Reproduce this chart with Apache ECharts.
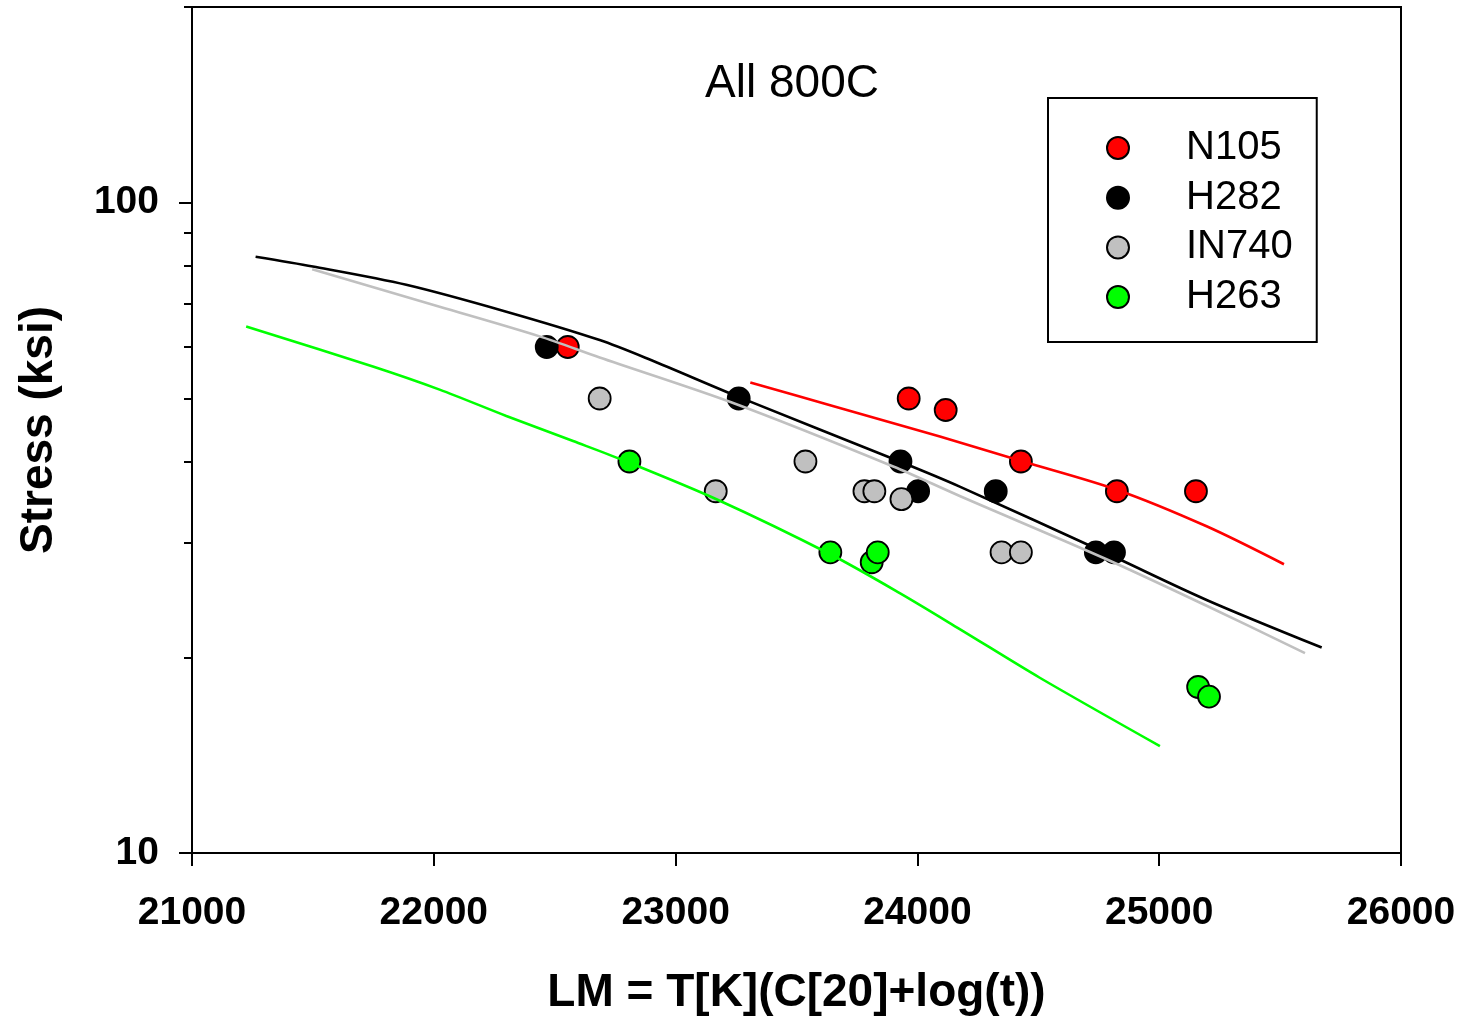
<!DOCTYPE html>
<html><head><meta charset="utf-8">
<script src="https://cdn.jsdelivr.net/npm/echarts@6/dist/echarts.min.js"></script>
<style>html,body{margin:0;padding:0;background:#fff}#c{width:1465px;height:1017px}</style>
</head><body><div id="c"></div>
<script>
const FONT = '"Liberation Sans", Arial, Helvetica, sans-serif';

// axes
const xTicks = [21000, 22000, 23000, 24000, 25000, 26000];
const yMajorTicks = [10, 100];
const yMinorTicks = [20, 30, 40, 50, 60, 70, 80, 90, 200];

// measured points
const n105X = [22554, 23964, 24117, 24428, 24825, 25152];
const n105Y = [60, 50, 48, 40, 36, 36];
const h282X = [22467, 23261, 23930, 24003, 24324, 24738, 24813];
const h282Y = [60, 50, 40, 36, 36, 29, 29];
const in740X = [22686, 23166, 23537, 23781, 23822, 23934, 24348, 24428];
const in740Y = [50, 36, 40, 36, 36, 35, 29, 29];
const h263X = [22809, 23640, 23811, 23836, 25161, 25206];
const h263Y = [40, 29, 28, 29, 18, 17.4];

// fitted curves
const fitN105X = [23309, 23650, 24093, 24437, 24824, 25196, 25516];
const fitN105Y = [52.9, 48.7, 43.7, 40.0, 36.2, 31.8, 27.8];
const fitH282X = [21263, 21500, 21886, 22300, 22686, 22893, 23265, 23927, 24175, 24782, 25196, 25672];
const fitH282Y = [82.6, 79.8, 74.8, 68.0, 61.5, 57.4, 50.2, 40.0, 36.6, 28.9, 24.5, 20.7];
const fitIN740X = [21497, 22024, 22438, 22686, 23238, 23900, 24175, 24782, 25196, 25603];
const fitIN740Y = [79.0, 69.2, 62.3, 57.8, 49.2, 39.3, 35.4, 28.3, 24.0, 20.3];
const fitH263X = [21224, 21748, 22024, 22300, 22576, 22782, 23169, 23640, 23927, 24175, 24506, 25003];
const fitH263Y = [64.5, 56.0, 51.6, 47.0, 43.0, 40.2, 35.0, 28.8, 25.1, 22.1, 18.6, 14.6];

const names = ['N105', 'H282', 'IN740', 'H263'];
const colors = ['#ff0000', '#000000', '#c0c0c0', '#00ff00'];
const ptsX = [n105X, h282X, in740X, h263X];
const ptsY = [n105Y, h282Y, in740Y, h263Y];
const fitX = [fitN105X, fitH282X, fitIN740X, fitH263X];
const fitY = [fitN105Y, fitH282Y, fitIN740Y, fitH263Y];

const zip = (a, b) => a.map((v, i) => [v, b[i]]);

const series = [];
names.forEach((n, i) => {
  series.push({
    name: n, type: 'scatter', symbol: 'circle', symbolSize: 22,
    data: zip(ptsX[i], ptsY[i]),
    itemStyle: { color: colors[i], borderColor: '#000', borderWidth: 1.8, opacity: 1 },
    z: 3
  });
});
names.forEach((n, i) => {
  series.push({
    name: n + ' fit', type: 'line', showSymbol: false, smooth: 0.3,
    data: zip(fitX[i], fitY[i]),
    lineStyle: { color: colors[i], width: 2.6 },
    itemStyle: { color: colors[i] },
    z: 4, silent: true
  });
});

const chart = echarts.init(document.getElementById('c'), null, { renderer: 'canvas' });
chart.setOption({
  animation: false,
  backgroundColor: '#fff',
  title: {
    text: 'All 800C', left: 787, top: 56, textAlign: 'center',
    textStyle: { fontFamily: FONT, fontSize: 46, fontWeight: 'normal', color: '#000' }
  },
  legend: {
    data: names, orient: 'vertical', left: 1048, top: 98,
    padding: [30, 24, 25, 58],
    itemWidth: 22, itemHeight: 22, itemGap: 9.7,
    borderColor: '#000', borderWidth: 2, icon: 'circle',
    textStyle: { fontFamily: FONT, fontSize: 40, color: '#000', padding: [0, 0, 0, 52], lineHeight: 22 }
  },
  grid: { left: 192, top: 7, width: 1209, height: 846, outerBoundsMode: 'none', containLabel: false, show: true, borderColor: '#000', borderWidth: 2, backgroundColor: 'transparent' },
  xAxis: {
    type: 'value', min: 21000, max: 26000, interval: 1000,
    name: 'LM = T[K](C[20]+log(t))', nameLocation: 'middle', nameGap: 117,
    nameTextStyle: { fontFamily: FONT, fontSize: 46, fontWeight: 'bold', color: '#000' },
    axisLine: { lineStyle: { color: '#000', width: 2 } },
    axisTick: { inside: false, length: 13, lineStyle: { color: '#000', width: 2 }, customValues: xTicks },
    axisLabel: { customValues: xTicks, margin: 41, fontFamily: FONT, fontSize: 39, fontWeight: 'bold', color: '#000', formatter: v => String(v) },
    splitLine: { show: false }
  },
  yAxis: [{
    type: 'log', logBase: 10, min: 10, max: 200, position: 'left',
    name: 'Stress (ksi)', nameLocation: 'middle', nameGap: 130,
    nameTextStyle: { fontFamily: FONT, fontSize: 46, fontWeight: 'bold', color: '#000' },
    axisLine: { show: true, lineStyle: { color: '#000', width: 2 } },
    axisTick: { inside: false, length: 13, lineStyle: { color: '#000', width: 2 }, customValues: yMajorTicks },
    axisLabel: { customValues: yMajorTicks, margin: 33, padding: [6, 0, 0, 0], fontFamily: FONT, fontSize: 39, fontWeight: 'bold', color: '#000', formatter: v => String(Math.round(v)) },
    splitLine: { show: false }, minorTick: { show: false }
  }, {
    type: 'log', logBase: 10, min: 10, max: 200, position: 'left', offset: 0,
    axisLine: { show: false },
    axisTick: { show: true, inside: false, length: 8, lineStyle: { color: '#000', width: 2 }, customValues: yMinorTicks },
    axisLabel: { show: false },
    splitLine: { show: false }
  }],
  series: series
});
</script>
</body></html>
